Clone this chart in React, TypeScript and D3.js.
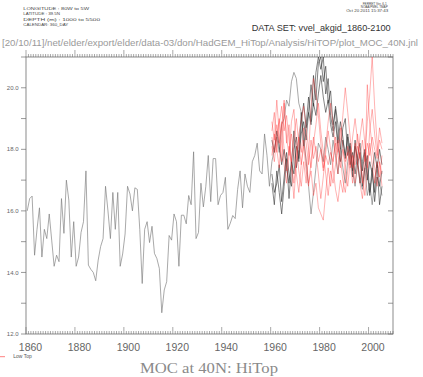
import React from "react";
import * as d3 from "d3";

// ---------- data ----------
const HIST_START = 1860;
// long HiTop run, 1860-2005 (annual means plotted at mid-year)
const histValues = [
  16.0, 16.4, 16.48, 14.56, 15.4, 16.1, 14.5, 15.4, 15.1, 15.9,
  15.05, 14.2, 14.56, 14.35, 16.4, 15.27, 17.0, 16.35, 14.5, 15.65,
  14.2, 14.5, 15.3, 15.65, 17.3, 14.24, 14.1, 14.0, 13.73, 14.4,
  14.84, 15.1, 16.8, 16.0, 15.1, 16.6, 15.4, 16.6, 14.2, 14.6,
  15.25, 16.8, 16.55, 16.0, 16.75, 16.7, 15.4, 13.64, 15.4, 15.65,
  14.97, 15.5, 14.62, 14.45, 14.13, 12.69, 13.43, 13.7, 15.2, 15.05,
  15.9, 15.65, 14.2, 15.86, 15.86, 15.58, 16.5, 16.2, 17.92, 15.1,
  15.3, 16.9, 16.13, 16.8, 17.8, 16.3, 17.7, 17.7, 16.2, 16.5,
  16.6, 17.09, 15.4, 15.6, 15.85, 15.75, 16.7, 17.3, 16.1, 17.2,
  16.8, 16.6, 17.6, 17.8, 18.2, 17.3, 17.2, 18.5, 17.8, 16.8,
  17.6, 18.0, 18.4, 17.9, 18.8, 19.0, 19.6, 19.4, 20.2, 20.5,
  20.3, 19.5, 19.2, 18.4, 17.6, 16.8, 15.9, 16.6, 17.4, 18.2,
  18.0, 17.6, 18.4, 18.0, 17.5, 18.3, 17.8, 17.2, 18.0, 17.4,
  16.9, 17.6, 18.1, 17.3, 16.8, 17.5, 17.0, 16.7, 17.4, 16.5,
  16.9, 16.2, 17.0, 17.6, 16.9, 16.5,
];

const ENS_START = 1960;
// HiTop ensemble members 1960-2005
const hiTop2 = [
  17.2, 16.6, 16.9, 17.5, 16.3, 17.1, 17.9, 17.2, 16.8, 18.0,
  18.4, 17.6, 18.9, 19.5, 18.7, 19.2, 20.1, 19.4, 20.5, 21.0,
  20.6, 21.0, 19.8, 20.3, 19.1, 18.6, 19.4, 18.8, 18.0, 18.7,
  19.0, 17.8, 18.2, 17.3, 18.1, 17.7, 16.9, 17.6, 18.0, 17.2,
  16.6, 17.4, 16.3, 17.1, 16.8, 17.3,
];
const hiTop3 = [
  16.9, 16.2, 17.3, 16.6, 15.9, 16.8, 17.7, 16.4, 17.5, 18.6,
  17.4, 18.0, 19.2, 18.1, 18.8, 19.7, 18.9, 20.4, 19.6, 20.8,
  21.0, 20.2, 20.7, 19.5, 19.9, 18.8, 19.3, 18.2, 18.9, 18.4,
  17.7, 18.5, 17.9, 17.1, 18.3, 17.5, 17.9, 16.8, 17.4, 17.8,
  16.5, 17.2, 16.6, 17.5, 16.2, 16.8,
];
const hiTop4 = [
  18.3, 17.9, 18.6, 18.1, 17.5, 18.0, 17.4, 16.9, 17.6, 17.2,
  18.1, 17.7, 18.5, 18.9, 18.3, 19.2, 18.8, 19.5, 19.1, 19.8,
  20.4, 19.7, 19.2, 19.6, 18.8, 18.4, 18.9, 18.1, 17.6, 18.3,
  17.8, 18.4, 17.5, 17.9, 17.2, 17.8, 18.2, 17.3, 17.9, 17.0,
  17.6, 17.2, 17.9, 17.4, 18.0, 17.5,
];
// Low Top ensemble members 1960-2005
const lowTop1 = [
  18.9, 18.3, 19.6, 18.5, 17.6, 19.5, 18.2, 18.8, 17.4, 16.4,
  17.6, 18.4, 17.9, 18.7, 18.2, 17.5, 18.3, 17.7, 18.1, 17.6,
  18.0, 17.3, 17.8, 17.5, 17.9, 17.6, 18.2, 17.8, 17.4, 18.0,
  17.6, 17.9, 17.4, 17.8, 17.5, 18.1, 17.7, 18.3, 17.6, 18.2,
  17.8, 18.4, 18.0, 17.7, 18.3, 18.0,
];
const lowTop2 = [
  18.6, 19.2, 18.0, 17.4, 18.7, 19.6, 18.4, 17.8, 18.9, 19.3,
  18.1, 17.3, 16.8, 17.6, 16.9, 17.8, 19.4, 20.3, 19.8, 19.1,
  18.2, 17.4, 18.1, 18.9, 19.5, 18.8, 18.0, 17.2, 18.3, 19.1,
  20.0, 19.2, 18.4, 17.6, 16.9, 17.5, 18.4, 19.0, 18.2, 17.4,
  18.6, 19.3, 18.5, 17.8, 18.7, 18.2,
];
const lowTop3 = [
  18.1, 17.6, 18.4, 19.0, 18.2, 17.5, 16.9, 17.8, 18.5, 17.9,
  17.2, 16.6, 17.5, 18.3, 17.7, 16.9, 17.3, 16.5, 16.9, 16.1,
  15.9, 15.7, 16.6, 17.4, 16.8, 17.6, 18.4, 17.9, 18.7, 18.1,
  17.3, 16.8, 17.6, 16.9, 17.7, 18.5, 17.8, 17.1, 16.5, 17.3,
  18.2, 17.5, 16.9, 17.6, 17.1, 17.8,
];
const lowTop4 = [
  17.8, 18.5, 17.9, 18.8, 19.4, 18.6, 19.1, 18.3, 17.6, 18.4,
  19.0, 18.2, 17.5, 18.1, 17.3, 16.8, 17.6, 18.4, 17.9, 17.2,
  16.4, 17.1, 17.9, 18.6, 18.0, 17.4, 16.7, 16.3, 17.0, 16.6,
  17.4, 18.1, 17.6, 18.4, 19.0, 18.3, 17.6, 16.9, 17.8, 18.9,
  19.8, 21.0, 19.4, 18.2, 17.5, 16.8,
];
const lowTop5 = [
  18.4, 17.9, 18.8, 18.2, 18.9, 18.0, 17.3, 18.1, 17.5, 16.9,
  17.7, 18.5, 18.9, 19.4, 18.7, 18.0, 17.4, 18.2, 18.8, 19.5,
  18.6, 17.9, 17.2, 16.5, 17.3, 16.9, 17.5, 18.3, 17.7, 17.0,
  16.6, 17.3, 18.0, 17.4, 18.2, 17.6, 16.9, 16.4, 17.2, 20.1,
  18.8, 18.1, 17.4, 16.8, 17.6, 17.2,
];

const xTickYears = [1860, 1880, 1900, 1920, 1940, 1960, 1980, 2000];
const yTickLabels = [12, 14, 16, 18, 20];
const headerLines = [
  "LONGITUDE : 80W to 5W",
  "LATITUDE : 39.5N",
  "DEPTH (m) : 1000 to 5500",
  "CALENDAR: 360_DAY",
];
const ferretLines = ["FERRET Ver. 6.1", "NOAA/PMEL TMAP", "Oct 20 2011 15:37:43"];
const dataSetLabel = "DATA SET: vvel_akgid_1860-2100";
const pathLabel =
  "[20/10/11]/net/elder/export/elder/data-03/don/HadGEM_HiTop/Analysis/HiTOP/plot_MOC_40N.jnl";
const titleLabel = "MOC at 40N: HiTop";
const legendLabel = "Low Top";

// ---------- layout ----------
const W = 423;
const H = 377;
const L = 26, R = 393, T = 57, B = 334;

export default function App() {
  const x = d3.scaleLinear().domain([1860, 2010]).range([L, R]);
  const y = d3.scaleLinear().domain([12, 21]).range([B, T]);

  const toPts = (vals: number[], start: number) =>
    vals.map((v, i) => [start + i + 0.5, v] as [number, number]);
  const line = d3
    .line<[number, number]>()
    .x((d) => x(d[0]))
    .y((d) => y(d[1]));

  const blackSeries = [hiTop2, hiTop3, hiTop4];
  const redSeries = [lowTop1, lowTop2, lowTop3, lowTop4, lowTop5];

  const minorYears = d3.range(1860, 2011, 1);
  const yInts = d3.range(12, 22, 1);
  const axisColor = "#6e6e6e";
  const textColor = "#666";
  const sans = "'Liberation Sans', Arial, sans-serif";

  const headerX = [[23.3, 65.7], [23.3, 36.7], [23.3, 76.7], [23.3, 45]];
  const headerY = [8.5, 13.5, 19, 24.5];

  return (
    <svg
      width={W}
      height={H}
      style={{ position: "absolute", left: 0, top: 0, background: "#fff" }}
    >
      <rect x={0} y={0} width={W} height={H} fill="#fff" />
      <defs>
        <clipPath id="plotclip">
          <rect x={L} y={T} width={R - L} height={B - T} />
        </clipPath>
      </defs>

      {/* header text */}
      {headerLines.map((t, i) => (
        <text
          key={t}
          x={headerX[i][0]}
          y={headerY[i]}
          dy="0.35em"
          fontSize={4.3}
          fontFamily={sans}
          fill="#444"
          textLength={headerX[i][1]}
          lengthAdjust="spacingAndGlyphs"
        >
          {t}
        </text>
      ))}
      {ferretLines.map((t, i) => (
        <text
          key={t}
          x={[374.7, 374.2, 367.2][i]}
          y={[3.5, 7, 10.5][i]}
          dy="0.35em"
          textAnchor="middle"
          fontSize={3}
          fontFamily={sans}
          fill="#444"
          textLength={[24, 27, 42][i]}
          lengthAdjust="spacingAndGlyphs"
        >
          {t}
        </text>
      ))}
      <text
        x={251.7}
        y={28}
        dy="0.35em"
        fontSize={8.6}
        fontFamily={sans}
        fill="#333"
        textLength={139}
        lengthAdjust="spacingAndGlyphs"
      >
        {dataSetLabel}
      </text>
      <text
        x={2}
        y={42.5}
        dy="0.35em"
        fontSize={9.6}
        fontFamily={sans}
        fill="#9a9a9a"
        textLength={416}
        lengthAdjust="spacingAndGlyphs"
      >
        {pathLabel}
      </text>

      {/* frame */}
      <rect x={L} y={T} width={R - L} height={B - T} fill="none" stroke={axisColor} strokeWidth={0.8} />

      {/* x ticks top (outward/up) and bottom (up/inward) */}
      {minorYears.map((yr) => {
        const major = yr % 20 === 0 && yr <= 2000;
        const len = major ? 7 : 3;
        return (
          <g key={yr} stroke={axisColor} strokeWidth={0.6}>
            <line x1={x(yr)} x2={x(yr)} y1={T} y2={T - len} />
            <line x1={x(yr)} x2={x(yr)} y1={B} y2={B - len} />
          </g>
        );
      })}
      {/* y ticks: left outward, right inward (both point left) */}
      {yInts.map((v) => (
        <g key={v} stroke={axisColor} strokeWidth={0.7}>
          <line x1={L} x2={L - 5} y1={y(v)} y2={y(v)} />
          <line x1={R} x2={R - 5} y1={y(v)} y2={y(v)} />
        </g>
      ))}
      {yTickLabels.map((v) => (
        <text
          key={v}
          x={18.5}
          y={y(v)}
          dy="0.35em"
          textAnchor="end"
          fontSize={6}
          fontFamily={sans}
          fill={textColor}
        >
          {v.toFixed(1)}
        </text>
      ))}
      {xTickYears.map((yr) => (
        <text
          key={yr}
          x={x(yr) + 4.5}
          y={347}
          dy="0.35em"
          textAnchor="middle"
          fontSize={10.5}
          fontFamily={sans}
          fill={textColor}
        >
          {yr}
        </text>
      ))}

      {/* data */}
      <g clipPath="url(#plotclip)" fill="none">
        <path d={line(toPts(histValues, HIST_START)) || ""} stroke="#7a7a7a" strokeWidth={0.65} />
        {blackSeries.map((s, i) => (
          <path key={"b" + i} d={line(toPts(s, ENS_START)) || ""} stroke="#333" strokeWidth={0.6} />
        ))}
        {redSeries.map((s, i) => (
          <path
            key={"r" + i}
            d={line(toPts(s, ENS_START)) || ""}
            stroke="#ff2a2a"
            strokeOpacity={0.6}
            strokeWidth={0.6}
          />
        ))}
      </g>

      {/* legend */}
      <line x1={0} x2={5} y1={356.7} y2={356.7} stroke="#ff6060" strokeWidth={0.8} />
      <text
        x={13.3}
        y={356.7}
        dy="0.35em"
        fontSize={4.6}
        fontFamily={sans}
        fill="#555"
        textLength={18.4}
        lengthAdjust="spacingAndGlyphs"
      >
        {legendLabel}
      </text>

      {/* title */}
      <text
        x={209}
        y={368.5}
        dy="0.35em"
        textAnchor="middle"
        fontSize={14}
        fontFamily="'Liberation Serif', 'Times New Roman', serif"
        fill="#8a8a8a"
        textLength={138}
        lengthAdjust="spacingAndGlyphs"
      >
        {titleLabel}
      </text>
    </svg>
  );
}
